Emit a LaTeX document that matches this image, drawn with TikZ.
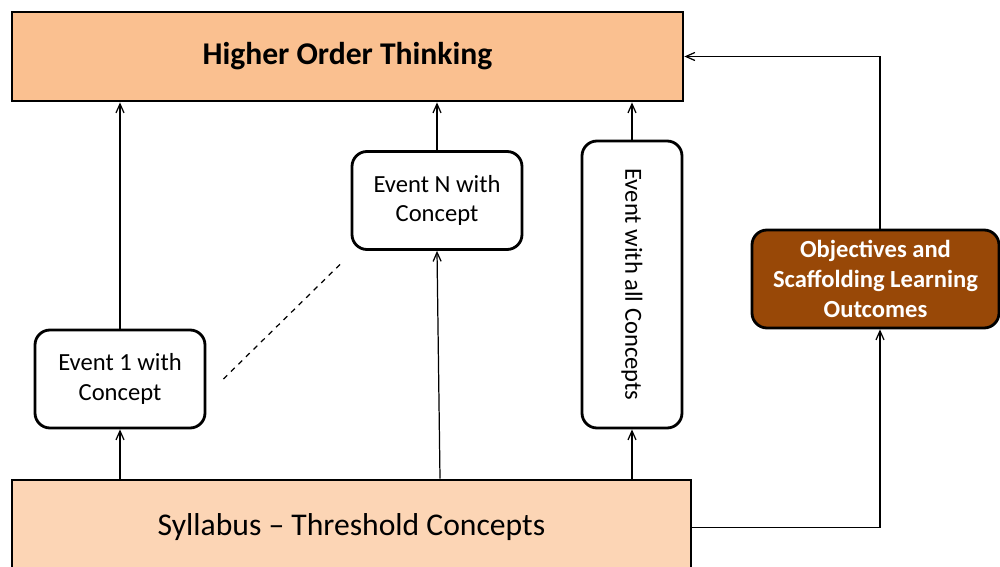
\documentclass[tikz,border=0pt]{standalone}
\usepackage{fontspec}
\setmainfont{Carlito}
\usetikzlibrary{positioning, arrows.meta, calc}
\definecolor{hotColor}{RGB}{250,192,144}
\definecolor{sylColor}{RGB}{252,213,181}
\definecolor{objColor}{RGB}{152,72,7}
\tikzstyle{rect}=[rectangle, draw=black, line width=1.6pt, align=center]
\tikzstyle{event}=[rect, rounded corners=3mm, fill=white,
  font=\fontsize{14}{17}\selectfont, minimum width=34mm, minimum height=19.6mm]
\tikzstyle{arrow}=[->, line width=0.7pt, >={Straight Barb[length=1.8mm, width=1.6mm]}]

\begin{document}
\begin{tikzpicture}[x=0.2mm, y=-0.2mm]
      \useasboundingbox (0,0) rectangle (1000,567);
      \node (hot) [rect, fill=hotColor, minimum width=134.2mm, minimum height=17.8mm,
        font=\fontsize{18}{22}\selectfont\bfseries] at (347.5,56.5) {Higher Order Thinking};
      \node (syl) [rect, fill=sylColor, minimum width=135.8mm, minimum height=19mm,
        font=\fontsize{18}{22}\selectfont] at (351.5,527.5) {Syllabus – Threshold Concepts};
      \node (ev1) [event] at (120,379) {Event 1 with\\Concept};
      \node (evN) [event] at (437,200.5) {Event N with\\Concept};
      \node (evAll) [event, minimum width=20mm, minimum height=57.4mm] at (632,284.5)
        {\rotatebox{-90}{Event with all Concepts}};
      \node (obj) [rect, rounded corners=3mm, fill=objColor, text=white, inner ysep=1pt,
        font=\fontsize{14}{17}\selectfont\bfseries, minimum width=49.4mm, minimum height=19.6mm]
        at (875.5,279) {Objectives and\\Scaffolding Learning\\Outcomes};
      % events rise from the syllabus to higher order thinking
      \draw [arrow] (ev1.south |- syl.north) -- (ev1.south);
      \draw [arrow] (ev1.north) -- (ev1.north |- hot.south);
      \draw [arrow] ([xshift=0.6mm]evN.south |- syl.north) -- (evN.south);
      \draw [arrow] (evN.north) -- (evN.north |- hot.south);
      \draw [arrow] (evAll.south |- syl.north) -- (evAll.south);
      \draw [arrow] (evAll.north) -- (evAll.north |- hot.south);
      \draw [dashed, line width=0.7pt] ([xshift=3.4mm]ev1.east) -- ([xshift=-1.8mm, yshift=-2.4mm]evN.south west);
      % loop through the objectives
      \draw [arrow] (syl.east) -| ([xshift=0.9mm]obj.south);
      \draw [arrow] ([xshift=0.9mm]obj.north) |- (hot.east);
    \end{tikzpicture}
\end{document}
